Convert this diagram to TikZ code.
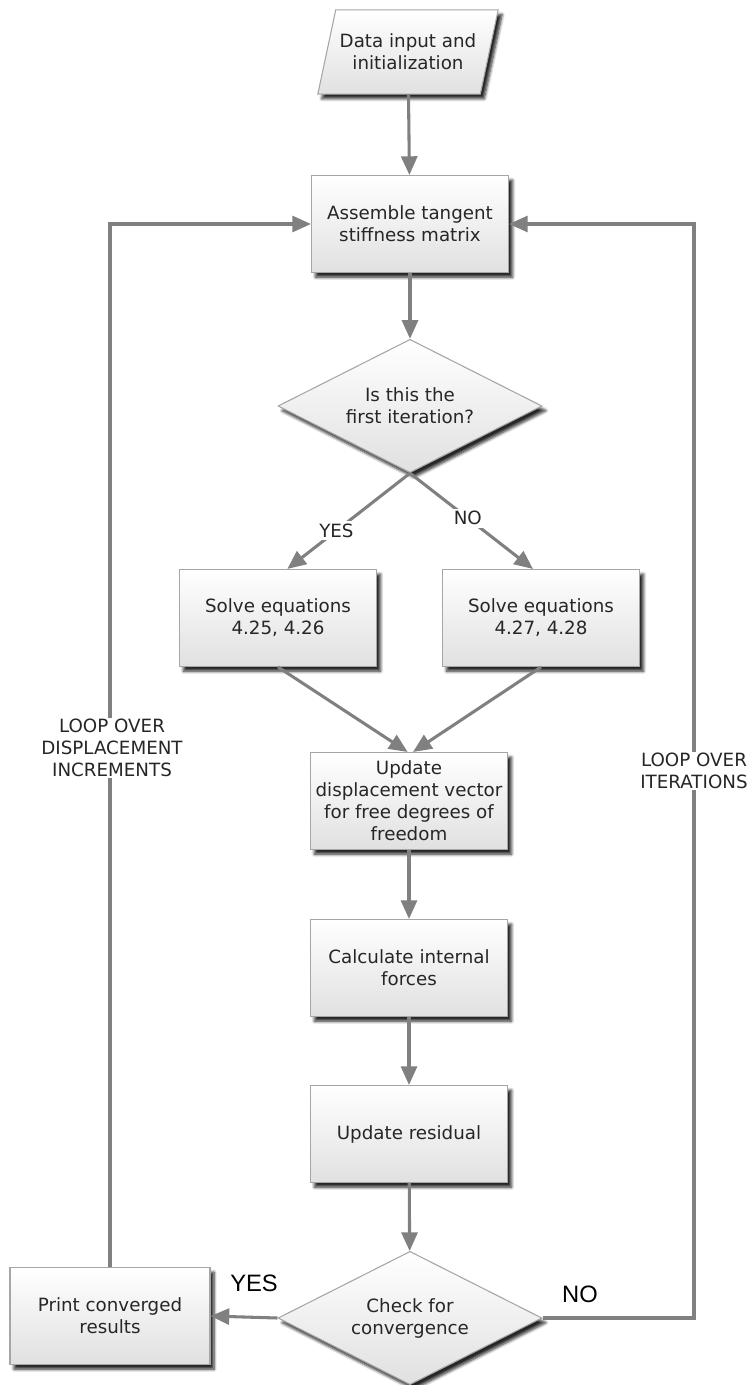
\documentclass[tikz,border=0pt]{standalone}
\usepackage{fontspec}
\setmainfont{DejaVu Sans}
\newfontfamily\arialfont{Liberation Sans}
\usetikzlibrary{shapes.geometric,arrows.meta,shadows.blur}

\tikzset{
  flowshade/.style={draw=gray!70, line width=0.8pt, top color=white, bottom color=gray!24,
    blur shadow={shadow xshift=3pt, shadow yshift=-3.5pt, shadow blur steps=6, shadow opacity=85},
    text=black!85, align=center},
  procbox/.style={flowshade, rectangle, minimum width=147.75pt, minimum height=72.75pt, inner sep=2pt},
  iobox/.style={flowshade, trapezium, trapezium left angle=78, trapezium right angle=102,
    inner xsep=3pt, inner ysep=18pt},
  decision/.style={flowshade, diamond, aspect=2, minimum width=198pt, minimum height=100pt, inner sep=0pt},
  flowline/.style={draw=gray, line width=2.3pt},
  looplabel/.style={fill=white, align=center, text=black!85, inner sep=1pt},
  answer/.style={fill=white, text=black!85, inner sep=2pt},
}

\begin{document}
\begin{tikzpicture}[x=0.75pt, y=-0.75pt, >={Triangle[length=14pt,width=12pt]},
    font=\fontsize{13.7}{16.5}\selectfont]

    \useasboundingbox (0,0) rectangle (753,1385);

    % Blok proses
    \node[iobox]    (input)    at (408,52)   {Data input and\\initialization};
    \node[procbox]  (assemble) at (410,224)  {Assemble tangent\\stiffness matrix};
    \node[decision] (first)    at (410,406)  {Is this the\\first iteration?};
    \node[procbox]  (yesbox)   at (278,618)  {Solve equations\\4.25, 4.26};
    \node[procbox]  (nobox)    at (541,618)  {Solve equations\\4.27, 4.28};
    \node[procbox]  (update)   at (409,801)  {Update\\displacement vector\\for free degrees of\\freedom};
    \node[procbox]  (internal) at (409,968)  {Calculate internal\\forces};
    \node[procbox]  (residual) at (409,1134) {Update residual};
    \node[decision] (check)    at (410,1318) {Check for\\convergence};
    \node[procbox, minimum width=150pt] (print) at (110,1316) {Print converged\\results};

    % Titik belok loop iterasi
    \coordinate (iterloop) at (694,224);

    % Aliran utama
    \draw[flowline, ->] (input) -- (assemble);
    \draw[flowline, ->] (assemble) -- (first);
    \draw[flowline, ->] (first.south) -- ([xshift=7pt]yesbox.north)
        node[answer, pos=0.6] {YES};
    \draw[flowline, ->] (first.south) -- ([xshift=-6pt]nobox.north)
        node[answer, pos=0.47] {NO};
    \draw[flowline, ->] (yesbox.south) -- ([xshift=-1pt]update.north);
    \draw[flowline, ->] (nobox.south) -- ([xshift=3pt]update.north);
    \draw[flowline, ->] (update) -- (internal);
    \draw[flowline, ->] (internal) -- (residual);
    \draw[flowline, ->] (residual) -- (check);
    \draw[flowline, ->] (check.west) -- (print.east);

    % Loop balik
    \draw[flowline, ->] (print.north) |- (assemble.west);
    \draw[flowline, ->] (check.east) -| (iterloop) -- (assemble.east);

    % Label loop
    \node[looplabel] (inclabel)  at (112,748) {LOOP OVER\\DISPLACEMENT\\INCREMENTS};
    \node[looplabel] (iterlabel) at (694,771) {LOOP OVER\\ITERATIONS};
    \node[text=black, font=\arialfont\fontsize{17.8}{20}\selectfont] (yeslabel) at (254,1283) {YES};
    \node[text=black, font=\arialfont\fontsize{17.8}{20}\selectfont] (nolabel)  at (580,1294) {NO};

\end{tikzpicture}
\end{document}
